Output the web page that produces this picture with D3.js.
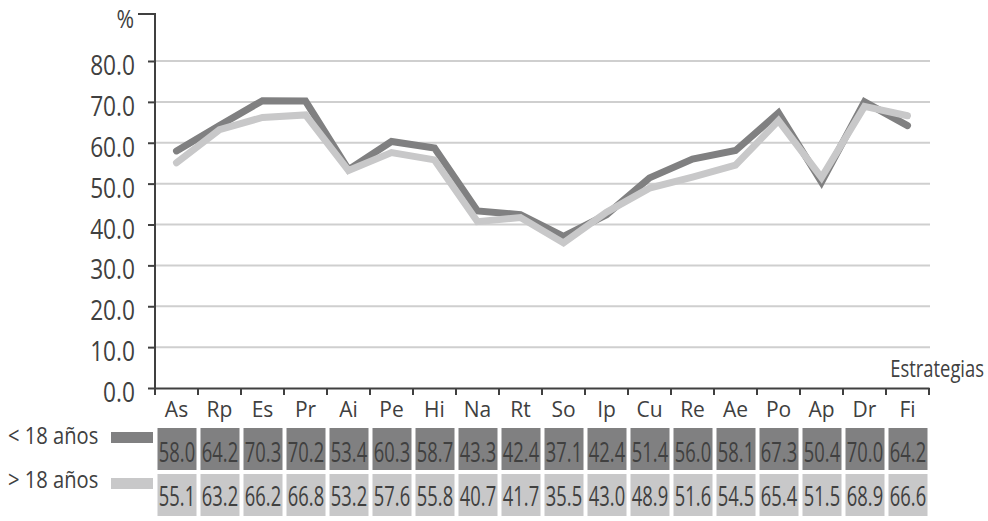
<!DOCTYPE html>
<html>
<head>
<meta charset="utf-8">
<script src="https://cdn.jsdelivr.net/npm/d3@7"></script>
<style>
  html, body { margin: 0; padding: 0; background: #fff; }
  svg { display: block; }
  text { font-family: "Open Sans", "Noto Sans", sans-serif; fill: #404040; }
</style>
</head>
<body>
<svg id="chart" width="988" height="521"></svg>
<script>
const categories = ["As","Rp","Es","Pr","Ai","Pe","Hi","Na","Rt","So","Ip","Cu","Re","Ae","Po","Ap","Dr","Fi"];
const under18 = [58.0,64.2,70.3,70.2,53.4,60.3,58.7,43.3,42.4,37.1,42.4,51.4,56.0,58.1,67.3,50.4,70.0,64.2];
const over18  = [55.1,63.2,66.2,66.8,53.2,57.6,55.8,40.7,41.7,35.5,43.0,48.9,51.6,54.5,65.4,51.5,68.9,66.6];
const seriesNames = ["< 18 años", "> 18 años"];
const yTicks = [0,10,20,30,40,50,60,70,80];
const yUnit = "%";
const xTitle = "Estrategias";

const darkC = "#808081", lightC = "#c8c8c9";
const svg = d3.select("#chart");

const x = d3.scaleBand().domain(categories).range([155, 929]).padding(0);
const y = d3.scaleLinear().domain([0, 80]).range([388, 61]);

// condensed text helper
function ctext(parent, px, py, str, size, sx, anchor) {
  return parent.append("text")
    .attr("transform", `translate(${px},${py}) scale(${sx},1)`)
    .attr("text-anchor", anchor || "start")
    .attr("font-size", size).text(str);
}

// gridlines
svg.append("g").selectAll("line").data(yTicks.filter(d => d > 0)).join("line")
  .attr("x1", 155).attr("x2", 930)
  .attr("y1", d => y(d)).attr("y2", d => y(d))
  .attr("stroke", "#cfcfcf").attr("stroke-width", 2);

// y axis
const yAxis = svg.append("g").attr("transform", "translate(155,0)")
  .call(d3.axisLeft(y).tickValues(yTicks).tickFormat("").tickSize(7));
yAxis.select(".domain").remove();
yAxis.selectAll(".tick line").attr("stroke", "#404040").attr("stroke-width", 2);
const yl = svg.append("g");
yTicks.forEach(t => ctext(yl, 135, y(t) + 14, d3.format(".1f")(t), 28, 0.81, "end"));

svg.append("line").attr("x1", 155).attr("x2", 155).attr("y1", 14).attr("y2", 389)
  .attr("stroke", "#404040").attr("stroke-width", 2);
svg.append("line").attr("x1", 138).attr("x2", 156).attr("y1", 14).attr("y2", 14)
  .attr("stroke", "#404040").attr("stroke-width", 2);
ctext(svg, 134, 28, yUnit, 25, 0.85, "end");

// x axis
const xAxis = svg.append("g").attr("transform", "translate(0,388)")
  .call(d3.axisBottom(x).tickSize(0).tickPadding(14));
xAxis.select(".domain").attr("stroke", "#404040").attr("stroke-width", 2);
xAxis.selectAll(".tick text").attr("font-size", 21).attr("fill", "#404040")
  .attr("font-family", "'Open Sans', sans-serif");
const bounds = categories.map(c => x(c)).concat([x.range()[1]]);
svg.append("g").selectAll("line").data(bounds).join("line")
  .attr("x1", d => d).attr("x2", d => d).attr("y1", 388).attr("y2", 395)
  .attr("stroke", "#404040").attr("stroke-width", 2);

ctext(svg, 984, 377, xTitle, 23, 0.8, "end");

// lines
const line = d3.line().x((d, i) => x(categories[i]) + x.bandwidth() / 2).y(d => y(d));
[[under18, darkC], [over18, lightC]].forEach(([vals, c]) => {
  svg.append("path").datum(vals).attr("d", line).attr("fill", "none")
    .attr("stroke", c).attr("stroke-width", 7).attr("stroke-linejoin", "miter")
    .attr("stroke-miterlimit", 3).attr("stroke-linecap", "round");
});

// data table
const rows = [[under18, darkC, 428, 34, 4, 16], [over18, lightC, 474, 32, 4, 14]];
rows.forEach(([vals, c, top, tb, sw, lb], ri) => {
  const g = svg.append("g");
  g.selectAll("rect").data(vals).join("rect")
    .attr("x", (d, i) => x(categories[i]) + 2.5).attr("y", top)
    .attr("width", x.bandwidth() - 4).attr("height", 42).attr("fill", c);
  vals.forEach((d, i) => {
    ctext(g, x(categories[i]) + x.bandwidth() / 2 + 0.5, top + tb, d.toFixed(1), 27, 0.68, "middle")
      .attr("fill", "#3c3c3c");
  });
  // legend
  svg.append("rect").attr("x", 111).attr("y", top + sw).attr("width", 42).attr("height", 11).attr("fill", c);
  ctext(svg, 8, top + lb, seriesNames[ri], 24, 0.84, "start");
});
</script>
</body>
</html>
